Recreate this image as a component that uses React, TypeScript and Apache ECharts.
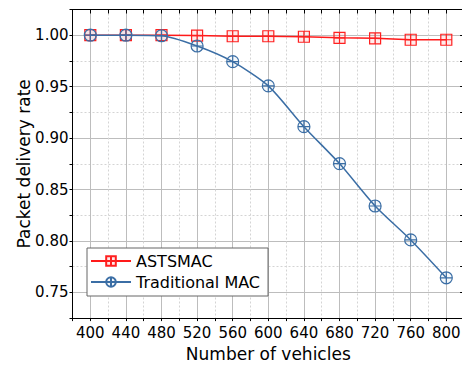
import React, { useEffect, useRef } from 'react';
import * as echarts from 'echarts';

const vehicles = [400, 440, 480, 520, 560, 600, 640, 680, 720, 760, 800];
const astsmac = [1.0, 1.0, 1.0, 0.9997, 0.999, 0.999, 0.9985, 0.9975, 0.997, 0.9956, 0.9956];
const traditional = [1.0, 1.0, 0.9995, 0.9895, 0.9743, 0.9508, 0.9111, 0.8752, 0.834, 0.801, 0.7642];
const seriesNames = ['ASTSMAC', 'Traditional MAC'];

const squareCross = 'path://M0,0L10,0L10,10L0,10Z M5,0L5,10 M0,5L10,5';
const circleCross = 'path://M0,5A5,5,0,1,1,10,5A5,5,0,1,1,0,5Z M5,0L5,10 M0,5L10,5';

const FONT = 'DejaVu Sans';
const MAJOR = '#bdbdbd';
const MINOR = '#d4d4d4';
const CLEAR = 'rgba(0,0,0,0)';

export default function App() {
  const ref = useRef<HTMLDivElement>(null);
  useEffect(() => {
    document.body.style.margin = '0';
    const chart = echarts.init(ref.current!, null, { renderer: 'svg' });
    const xFmt = (v: number) => (Math.round(v) % 40 === 0 ? String(Math.round(v)) : '');
    const yFmt = (v: number) => {
      const k = Math.round(v * 1000);
      return k % 50 === 0 ? (k / 1000).toFixed(2) : '';
    };
    const axisLine = { show: true, onZero: false, lineStyle: { color: '#000', width: 1 } };
    chart.setOption({
      animation: false,
      textStyle: { fontFamily: FONT },
      grid: { left: 72.5, right: 5.9, top: 9.5, bottom: 42.4, containLabel: false },
      legend: {
        orient: 'vertical',
        left: 87,
        top: 248,
        padding: [5, 8, 6, 3],
        itemWidth: 40,
        itemHeight: 12,
        itemGap: 5,
        borderColor: '#666',
        borderWidth: 1,
        borderRadius: 0,
        backgroundColor: '#fff',
        textStyle: { fontSize: 16, color: '#000', fontFamily: FONT },
        data: seriesNames,
      },
      xAxis: [
        {
          type: 'value',
          position: 'bottom',
          min: 380,
          max: 820,
          interval: 20,
          axisLine,
          axisTick: { show: true, inside: false, length: 3, lineStyle: { color: '#000' } },
          axisLabel: { formatter: xFmt, fontSize: 15, color: '#000', margin: 7, fontFamily: FONT },
          splitLine: { show: true, lineStyle: { color: [MINOR, CLEAR], type: [2, 2], width: 1 } },
          name: 'Number of vehicles',
          nameLocation: 'middle',
          nameGap: 20,
          nameTextStyle: { fontSize: 17, color: '#000', fontFamily: FONT },
        },
        {
          type: 'value',
          position: 'top',
          min: 380,
          max: 820,
          interval: 20,
          axisLine,
          axisTick: { show: true, inside: true, length: 4, lineStyle: { color: '#000' } },
          axisLabel: { show: false },
          splitLine: { show: true, lineStyle: { color: [CLEAR, MAJOR], type: 'solid', width: 1 } },
        },
      ],
      yAxis: [
        {
          type: 'value',
          position: 'left',
          min: 0.725,
          max: 1.025,
          interval: 0.025,
          axisLine,
          axisTick: { show: true, inside: false, length: 3, lineStyle: { color: '#000' } },
          axisLabel: { formatter: yFmt, fontSize: 15, color: '#000', margin: 4, fontFamily: FONT },
          splitLine: { show: true, lineStyle: { color: [MINOR, CLEAR], type: [2, 2], width: 1 } },
          name: 'Packet delivery rate',
          nameLocation: 'middle',
          nameGap: 40,
          nameMoveOverlap: false,
          nameTextStyle: { fontSize: 17, color: '#000', fontFamily: FONT },
        },
        {
          type: 'value',
          position: 'right',
          min: 0.725,
          max: 1.025,
          interval: 0.025,
          axisLine,
          axisTick: { show: true, inside: true, length: 4, lineStyle: { color: '#000' } },
          axisLabel: { show: false },
          splitLine: { show: true, lineStyle: { color: [CLEAR, MAJOR], type: 'solid', width: 1.2 } },
        },
      ],
      series: [
        {
          name: seriesNames[0],
          type: 'line',
          xAxisIndex: 0,
          yAxisIndex: 0,
          data: vehicles.map((v, i) => [v, astsmac[i]]),
          symbol: squareCross,
          symbolSize: 11,
          showAllSymbol: true,
          color: '#ff0000',
          lineStyle: { color: '#ff1a1a', width: 1.5 },
          itemStyle: { color: 'rgba(255,0,0,0.08)', borderColor: '#ff2020', borderWidth: 1.2 },
          z: 2,
        },
        {
          name: seriesNames[1],
          type: 'line',
          xAxisIndex: 0,
          yAxisIndex: 0,
          data: vehicles.map((v, i) => [v, traditional[i]]),
          smooth: 0.25,
          symbol: circleCross,
          symbolSize: 12,
          showAllSymbol: true,
          color: '#3b6ea5',
          lineStyle: { color: '#3b6ea5', width: 1.5 },
          itemStyle: { color: 'rgba(59,110,165,0.05)', borderColor: '#3b6ea5', borderWidth: 1.2 },
          z: 3,
        },
      ],
    });
    return () => chart.dispose();
  }, []);
  return (
    <div style={{ position: 'fixed', left: 0, top: 0, width: 462, height: 367, overflow: 'hidden', background: '#fff' }}>
      <div ref={ref} style={{ width: 470, height: 367 }} />
    </div>
  );
}
